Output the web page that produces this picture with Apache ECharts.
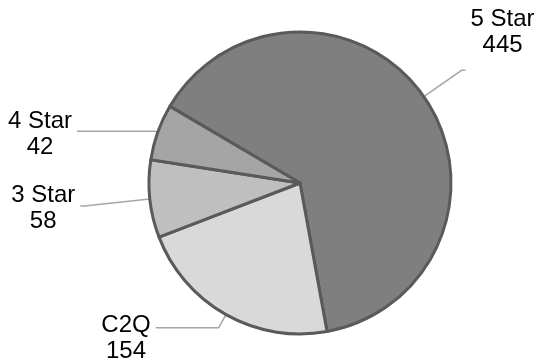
<!DOCTYPE html>
<html>
<head>
<meta charset="utf-8">
<script src="https://cdn.jsdelivr.net/npm/echarts@6/dist/echarts.min.js"></script>
<style>
	html, body { margin: 0; padding: 0; background: #fff; }
	#chart { width: 538px; height: 362px; }
</style>
</head>
<body>
<div id="chart"></div>
<script>
	// data
	var categories = ['5 Star', 'C2Q', '3 Star', '4 Star'];
	var values = [445, 154, 58, 42];

	// style per slice (fill, leader line length, label offset)
	var sliceColors = ['#7f7f7f', '#d9d9d9', '#bfbfbf', '#a5a5a5'];
	var lineLen = [46, 15, 66, 3];
	var lineLen2 = [4, 63, 4, 78];
	var labelPad = [[0, 0, 76, 0], [22, 0, 0, 0], [5, 0, 0, 0], [7, 0, 0, 0]];

	var chart = echarts.init(document.getElementById('chart'));
	var seriesData = categories.map(function (name, i) {
		return {
			name: name,
			value: values[i],
			itemStyle: { color: sliceColors[i] },
			label: { padding: labelPad[i] },
			labelLine: { length: lineLen[i], length2: lineLen2[i] }
		};
	});

	var option = {
		backgroundColor: '#ffffff',
		animation: false,
		series: [{
			type: 'pie',
			center: [300, 183],
			radius: 151,
			startAngle: 149.5,
			clockwise: true,
			avoidLabelOverlap: false,
			itemStyle: {
				borderColor: '#5a5a5a',
				borderWidth: 3
			},
			label: {
				show: true,
				position: 'outside',
				bleedMargin: 0,
				distanceToLabelLine: 5,
				formatter: '{t|{b}}\n{t|{c}}',
				rich: {
					t: {
						fontFamily: 'Liberation Sans, Arial, sans-serif',
						fontSize: 24,
						lineHeight: 26,
						color: '#000',
						align: 'center'
					}
				}
			},
			labelLine: {
				show: true,
				smooth: false,
				lineStyle: { color: '#a6a6a6', width: 1.5 }
			},
			emphasis: { disabled: true },
			data: seriesData
		}]
	};
	chart.setOption(option);
</script>
</body>
</html>
